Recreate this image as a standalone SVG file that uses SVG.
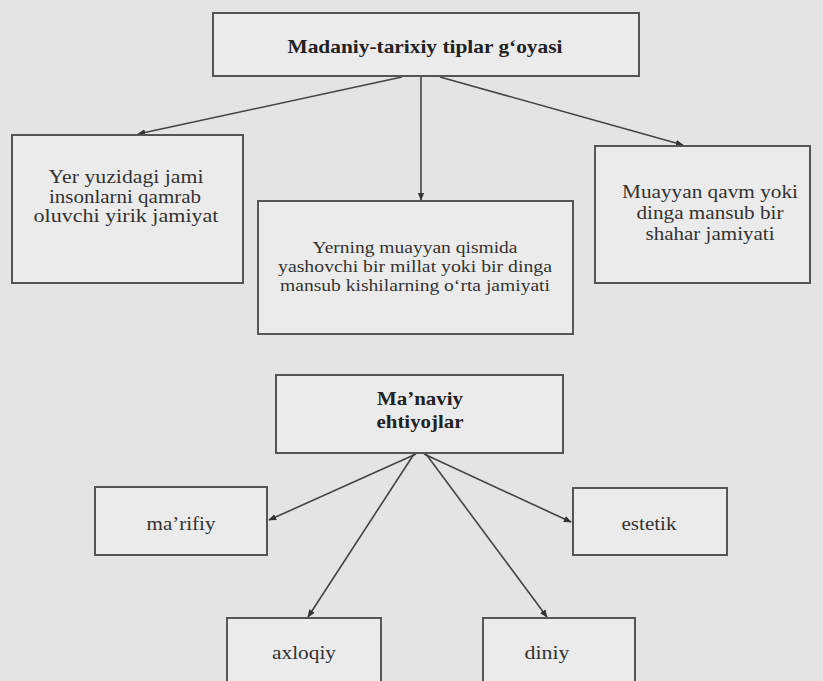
<svg xmlns="http://www.w3.org/2000/svg" width="823" height="681" viewBox="0 0 823 681">
<defs>
<marker id="ah" viewBox="0 0 10 10" refX="9" refY="5" markerWidth="8" markerHeight="8" markerUnits="userSpaceOnUse" orient="auto">
<path d="M0,1 L10,5 L0,9 z" fill="#333"/>
</marker>
</defs>
<style>
.box{fill:#ebebeb;stroke:#555;stroke-width:2}
.t{font-family:"Liberation Serif","Times New Roman",serif;font-size:19px;fill:#333;text-anchor:middle}
.m{font-size:16.5px}
.b{font-weight:bold;fill:#222}
.c{stroke:#444;stroke-width:1.6;fill:none;marker-end:url(#ah)}
</style>
<rect width="823" height="681" fill="#e4e4e4"/>
<g id="connectors">
<line class="c" x1="402" y1="77" x2="138" y2="134"/>
<line class="c" x1="421" y1="77" x2="421" y2="200"/>
<line class="c" x1="440" y1="77" x2="683" y2="145"/>
<line class="c" x1="416" y1="454" x2="269" y2="520"/>
<line class="c" x1="424" y1="454" x2="571" y2="522"/>
<line class="c" x1="414" y1="454" x2="308" y2="617"/>
<line class="c" x1="426" y1="454" x2="547" y2="617"/>
</g>
<g id="n-top">
<rect class="box" x="213" y="13" width="426" height="63"/>
<text class="t b" x="425" y="53" textLength="275" lengthAdjust="spacingAndGlyphs">Madaniy-tarixiy tiplar g‘oyasi</text>
</g>
<g id="n-left">
<rect class="box" x="12" y="135" width="231" height="148"/>
<text class="t" x="126" y="183" textLength="155" lengthAdjust="spacingAndGlyphs">Yer yuzidagi jami</text>
<text class="t" x="125" y="203" textLength="152" lengthAdjust="spacingAndGlyphs">insonlarni qamrab</text>
<text class="t" x="126" y="222" textLength="185" lengthAdjust="spacingAndGlyphs">oluvchi yirik jamiyat</text>
</g>
<g id="n-mid">
<rect class="box" x="258" y="201" width="315" height="133"/>
<text class="t m" x="415" y="253" textLength="205" lengthAdjust="spacingAndGlyphs">Yerning muayyan qismida</text>
<text class="t m" x="415" y="272" textLength="274" lengthAdjust="spacingAndGlyphs">yashovchi bir millat yoki bir dinga</text>
<text class="t m" x="415" y="291" textLength="270" lengthAdjust="spacingAndGlyphs">mansub kishilarning o‘rta jamiyati</text>
</g>
<g id="n-right">
<rect class="box" x="595" y="146" width="215" height="137"/>
<text class="t" x="710" y="198" textLength="176" lengthAdjust="spacingAndGlyphs">Muayyan qavm yoki</text>
<text class="t" x="710" y="219" textLength="147" lengthAdjust="spacingAndGlyphs">dinga mansub bir</text>
<text class="t" x="710" y="240" textLength="129" lengthAdjust="spacingAndGlyphs">shahar jamiyati</text>
</g>
<g id="n-manaviy">
<rect class="box" x="276" y="375" width="287" height="78"/>
<text class="t b" x="420" y="405" textLength="86" lengthAdjust="spacingAndGlyphs">Ma’naviy</text>
<text class="t b" x="420" y="428" textLength="87" lengthAdjust="spacingAndGlyphs">ehtiyojlar</text>
</g>
<g id="n-marifiy">
<rect class="box" x="95" y="487" width="172" height="68"/>
<text class="t" x="181" y="530" textLength="69" lengthAdjust="spacingAndGlyphs">ma’rifiy</text>
</g>
<g id="n-estetik">
<rect class="box" x="573" y="488" width="154" height="67"/>
<text class="t" x="649" y="530" textLength="55" lengthAdjust="spacingAndGlyphs">estetik</text>
</g>
<g id="n-axloqiy">
<rect class="box" x="227" y="618" width="154" height="70"/>
<text class="t" x="304" y="659" textLength="64" lengthAdjust="spacingAndGlyphs">axloqiy</text>
</g>
<g id="n-diniy">
<rect class="box" x="483" y="618" width="152" height="70"/>
<text class="t" x="547" y="659" textLength="45" lengthAdjust="spacingAndGlyphs">diniy</text>
</g>
</svg>
